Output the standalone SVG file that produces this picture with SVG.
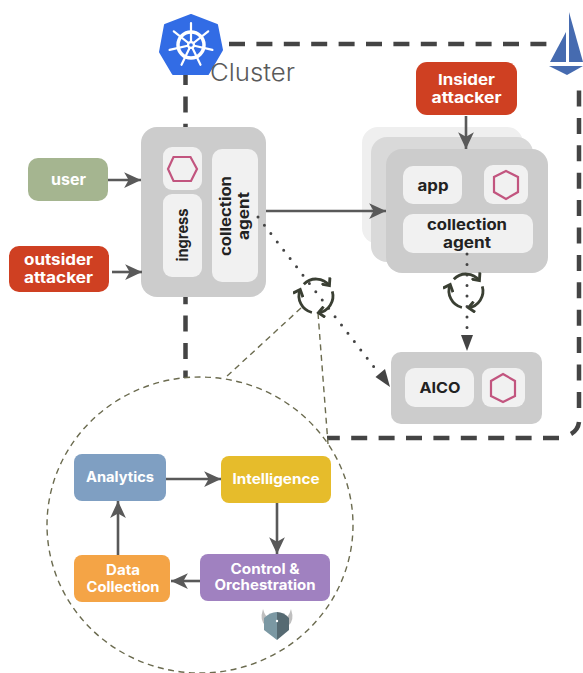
<svg xmlns="http://www.w3.org/2000/svg" width="583" height="673" viewBox="0 0 583 673">
<style>
text{font-family:Inter,"Open Sans","Liberation Sans",sans-serif;font-weight:700;text-anchor:middle}
.w{fill:#fff;font-size:15px}
.f{fill:#fff;font-size:14px}
.d{fill:#222;font-size:15px}
.in{fill:#f1f1f1}
.pod{fill:#ccc}
.hex{fill:none;stroke:#c2557f;stroke-width:2.2}
.cl{fill:none;stroke:#444;stroke-width:4.5;stroke-dasharray:16 11.4}
.ar{fill:none;stroke:#595959;stroke-width:2.6;marker-end:url(#a)}
.dot{fill:none;stroke:#444;stroke-width:3;stroke-linecap:round;stroke-dasharray:0 10.5}
.zoom{fill:none;stroke:#6b6b4f;stroke-width:1.4;stroke-dasharray:6 4.5}
.cy{fill:none;stroke:#3a3f33;stroke-width:2.8;marker-end:url(#c)}
</style>
<defs>
<marker id="a" markerUnits="userSpaceOnUse" markerWidth="18" markerHeight="16" refX="15" refY="7" orient="auto" viewBox="0 0 16 14"><path d="M0 0L15 7L0 14L4 7Z" fill="#595959"/></marker>
<marker id="c" markerUnits="userSpaceOnUse" markerWidth="12" markerHeight="12" refX="6" refY="5" orient="auto" viewBox="0 0 10 10"><path d="M1 0.500L6 5L1 9.500" fill="none" stroke="#3a3f33" stroke-width="2.400"/></marker>
<g id="cycle"><path class="cy" d="M-12.200 -11.800A17 17 0 0 1 13.400 -10.500"/><path class="cy" d="M16.300 -4.700A17 17 0 0 1 2.400 16.800"/><path class="cy" d="M-4.100 16.500A17 17 0 0 1 -15.800 -6.400"/></g>
</defs>
<rect width="583" height="673" fill="#fff"/>
<g id="cluster-boundary">
<path class="cl" d="M229 44H552"/>
<path class="cl" d="M579 90.500V410"/>
<path d="M579 422Q578 430 571 434" fill="none" stroke="#444" stroke-width="4.500"/>
<path class="cl" d="M559 438H327"/>
<path class="cl" d="M185.500 69V378"/>
</g>
<g id="zoom-circle"><ellipse class="zoom" cx="200" cy="525" rx="153" ry="148"/></g>
<g id="zoom-lines"><path class="zoom" d="M301 308L225 378"/><path class="zoom" d="M318 313L328 444"/></g>
<g id="kubernetes">
<path d="M191 15L217 25L222 50L208 74H173L160 52L165 25Z" fill="#326ce5" stroke="#326ce5" stroke-width="2" stroke-linejoin="round"/>
<circle cx="191" cy="45" r="13" fill="none" stroke="#fff" stroke-width="3.500"/>
<path d="M191 45V23M191 45L208.200 31.300M191 45L212.400 49.900M191 45L200.500 64.800M191 45L181.500 64.800M191 45L169.600 49.900M191 45L173.800 31.300" stroke="#fff" stroke-width="2.200" fill="none" stroke-linecap="round"/>
<circle cx="191" cy="45" r="4" fill="#fff"/>
<circle cx="191" cy="45" r="1.800" fill="#326ce5"/>
</g>
<text id="cluster-label" x="252.500" y="81" textLength="85" lengthAdjust="spacingAndGlyphs" style="font-weight:300;font-size:24px;fill:#5a5a5a">Cluster</text>
<g id="istio">
<path d="M569 12L583 62H569Z" fill="#466bb0"/>
<path d="M566 32V62H550Z" fill="#466bb0"/>
<path d="M549 66H583L567 75Z" fill="#466bb0"/>
</g>
<g id="user"><rect x="28" y="158" width="80" height="43" rx="10" fill="#a5b590"/><text class="w" x="68.500" y="185" textLength="35" lengthAdjust="spacingAndGlyphs">user</text></g>
<g id="outsider-attacker"><rect x="9" y="246" width="100" height="46" rx="10" fill="#cf4022"/><text class="w" x="58.500" y="265" textLength="69" lengthAdjust="spacingAndGlyphs">outsider</text><text class="w" x="58.500" y="283" textLength="69" lengthAdjust="spacingAndGlyphs">attacker</text></g>
<g id="insider-attacker"><rect x="416" y="62" width="101" height="53" rx="11" fill="#cf4022"/><text class="w" x="466.500" y="85" textLength="57" lengthAdjust="spacingAndGlyphs">Insider</text><text class="w" x="466.500" y="103" textLength="70" lengthAdjust="spacingAndGlyphs">attacker</text></g>
<g id="ingress-pod">
<rect class="pod" x="141" y="127" width="125" height="170" rx="16"/>
<rect class="in" x="163" y="147" width="39" height="43" rx="9"/>
<polygon class="hex" points="168,169 173.500,157 190.500,157 197,169 191,181 173.500,181"/>
<rect class="in" x="163" y="194" width="39" height="83" rx="9"/>
<text class="d" transform="translate(188,235) rotate(-90)" textLength="53" lengthAdjust="spacingAndGlyphs">ingress</text>
<rect class="in" x="212" y="149" width="46" height="133" rx="10"/>
<text class="d" transform="translate(231,216) rotate(-90)" textLength="80" lengthAdjust="spacingAndGlyphs">collection</text>
<text class="d" transform="translate(249,216) rotate(-90)" textLength="48" lengthAdjust="spacingAndGlyphs">agent</text>
</g>
<g id="app-pods">
<rect x="362" y="127" width="161" height="117" rx="16" fill="#efefef"/>
<rect x="371" y="137" width="162" height="125" rx="16" fill="#d9d9d9"/>
<rect class="pod" x="386" y="149" width="162" height="124" rx="16"/>
<rect class="in" x="403" y="166" width="59" height="38" rx="10"/>
<text class="d" x="433" y="191" textLength="31" lengthAdjust="spacingAndGlyphs">app</text>
<rect class="in" x="484" y="165" width="44" height="39" rx="9"/>
<polygon class="hex" points="506,171 518,177 518,192 506,199 494,192 494,177"/>
<rect class="in" x="403" y="214" width="130" height="39" rx="10"/>
<text class="d" x="467" y="230" textLength="80" lengthAdjust="spacingAndGlyphs">collection</text>
<text class="d" x="467" y="248" textLength="48" lengthAdjust="spacingAndGlyphs">agent</text>
</g>
<g id="aico">
<rect class="pod" x="391" y="352" width="151" height="72" rx="10"/>
<rect class="in" x="405" y="368" width="69" height="39" rx="10"/>
<text class="d" x="440" y="393" textLength="41" lengthAdjust="spacingAndGlyphs">AICO</text>
<rect class="in" x="482" y="368" width="43" height="39" rx="9"/>
<polygon class="hex" points="503,374 515,381 515,396 503,402 491,396 491,381"/>
</g>
<g id="analytics"><rect x="74" y="454" width="92" height="47" rx="8" fill="#7f9fc2"/><text class="f" x="120" y="482" textLength="68" lengthAdjust="spacingAndGlyphs">Analytics</text></g>
<g id="intelligence"><rect x="221" y="456" width="110" height="47" rx="8" fill="#e6bc2b"/><text class="f" x="276" y="484" textLength="87" lengthAdjust="spacingAndGlyphs">Intelligence</text></g>
<g id="control"><rect x="200" y="554" width="130" height="47" rx="8" fill="#a081c0"/><text class="f" x="265" y="574" textLength="69" lengthAdjust="spacingAndGlyphs">Control &amp;</text><text class="f" x="265" y="590" textLength="101" lengthAdjust="spacingAndGlyphs">Orchestration</text></g>
<g id="data-collection"><rect x="74" y="555" width="96" height="47" rx="8" fill="#f4a446"/><text class="f" x="123" y="575" textLength="34" lengthAdjust="spacingAndGlyphs">Data</text><text class="f" x="123" y="591.500" textLength="73" lengthAdjust="spacingAndGlyphs">Collection</text></g>
<g id="opa">
<path d="M263 609Q259 621 266 626L271 620Q265 617 263 609ZM291 609Q295 621 288 626L283 620Q289 617 291 609Z" fill="#bfbfbf"/>
<path d="M277 612Q270 612 264 618V630L277 640Z" fill="#7b98a3"/>
<path d="M277 612Q284 612 289 618V630L277 640Z" fill="#566a72"/>
<circle cx="277" cy="621" r="1.200" fill="#fff"/>
</g>
<g id="connectors">
<path class="ar" d="M108 180H141"/>
<path class="ar" d="M112 272H142"/>
<path class="ar" d="M266 211H386"/>
<path class="ar" d="M466 116V149"/>
<path class="ar" d="M166 479H221"/>
<path class="ar" d="M277 503V554"/>
<path class="ar" d="M200 581H171"/>
<path class="ar" d="M118 555V501"/>
<path class="dot" d="M258 217L374 367"/>
<path d="M390 387L375.500 377L385 369Z" fill="#444"/>
<path class="dot" d="M467 254V330"/>
<path d="M461 335H473L467 351Z" fill="#444"/>
<use href="#cycle" x="316" y="296"/>
<use href="#cycle" x="466" y="291"/>
</g>
</svg>
